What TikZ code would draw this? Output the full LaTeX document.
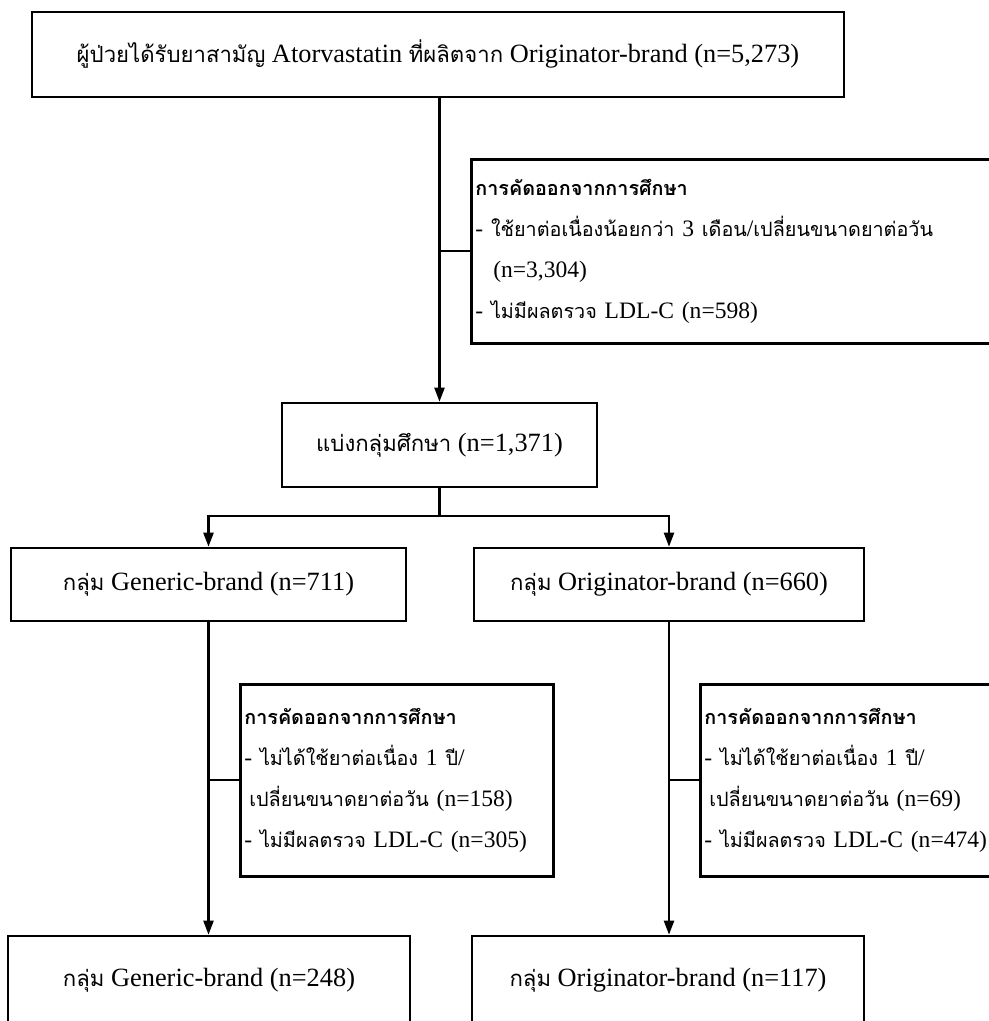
\documentclass[tikz,border=0pt]{standalone}
\usepackage{fontspec}
\setmainfont{Liberation Serif}
\newfontfamily\thaifont[Script=Thai,Scale=0.84]{Loma}
\newcommand{\tha}[1]{{\thaifont #1}}
\exhyphenpenalty=10000
\usetikzlibrary{shapes.geometric, arrows, arrows.meta}
\tikzstyle{box} = [draw, line width=1.5pt, inner sep=0pt, font=\fontsize{15}{18}\selectfont]
\tikzstyle{exclbox} = [draw, line width=1.5pt, anchor=north west, inner xsep=0.08cm, align=left, font=\fontsize{13.4}{23.3}\selectfont]
\tikzstyle{flow} = [line width=1.3pt,-{Triangle[length=0.28cm,width=0.2cm]}]
\tikzstyle{link} = [line width=1.3pt]

\begin{document}
\begin{tikzpicture}[x=0.02cm,y=-0.02cm]
\useasboundingbox (0,0) rectangle (988,1021);
\node[box, minimum width=16.24cm, minimum height=1.7cm] (src) at (438,54.5) {\tha{ผู้ป่วยได้รับยาสามัญ} Atorvastatin \tha{ที่ผลิตจาก} Originator-brand (n=5,273)};
\node[exclbox, minimum width=10.6cm, minimum height=3.68cm, text width=10.44cm] (ex1) at (470,158) {\textbf{\tha{การคัดออกจากการศึกษา}}\\-~\tha{ใช้ยาต่อเนื่องน้อยกว่า}~3~\tha{เดือน}/\tha{เปลี่ยนขนาดยาต่อวัน}\\\hspace*{0.36cm}(n=3,304)\\-~\tha{ไม่มีผลตรวจ}~LDL-C~(n=598)};
\node[box, minimum width=6.3cm, minimum height=1.68cm] (split) at (439.5,445) {\tha{แบ่งกลุ่มศึกษา} (n=1,371)};
\node[box, minimum width=7.9cm, minimum height=1.46cm] (gen) at (208.5,584.5) {\tha{กลุ่ม} Generic-brand (n=711)};
\node[box, minimum width=7.8cm, minimum height=1.46cm] (orig) at (669,584.5) {\tha{กลุ่ม} Originator-brand (n=660)};
\node[exclbox, minimum width=6.26cm, minimum height=3.84cm, text width=6.1cm] (exgen) at (239,683) {\textbf{\tha{การคัดออกจากการศึกษา}}\\-~\tha{ไม่ได้ใช้ยาต่อเนื่อง}~1~\tha{ปี}/\\\hspace*{0.1cm}\tha{เปลี่ยนขนาดยาต่อวัน}~(n=158)\\-~\tha{ไม่มีผลตรวจ}~LDL-C~(n=305)};
\node[exclbox, minimum width=6.2cm, minimum height=3.84cm, text width=6.04cm] (exorig) at (699,683) {\textbf{\tha{การคัดออกจากการศึกษา}}\\-~\tha{ไม่ได้ใช้ยาต่อเนื่อง}~1~\tha{ปี}/\\\hspace*{0.1cm}\tha{เปลี่ยนขนาดยาต่อวัน}~(n=69)\\-~\tha{ไม่มีผลตรวจ}~LDL-C~(n=474)};
\node[box, minimum width=8.04cm, minimum height=1.76cm] (genend) at (209,980) {\tha{กลุ่ม} Generic-brand (n=248)};
\node[box, minimum width=7.84cm, minimum height=1.76cm] (origend) at (668,980) {\tha{กลุ่ม} Originator-brand (n=117)};

\draw[flow] (src.south -| split.north) -- (split.north);
\draw[link] (ex1.west) -- (ex1.west -| split.north);
\draw[link] (split.south) -- (439.5,516) coordinate (fork);
\draw[flow] (fork) -| (gen.north);
\draw[flow] (fork) -| (orig.north);
\draw[flow] (gen.south) -- (genend.north -| gen.south);
\draw[link] (exgen.west) -- (exgen.west -| gen.south);
\draw[flow] (orig.south) -- (origend.north -| orig.south);
\draw[link] (exorig.west) -- (exorig.west -| orig.south);
\end{tikzpicture}
\end{document}
